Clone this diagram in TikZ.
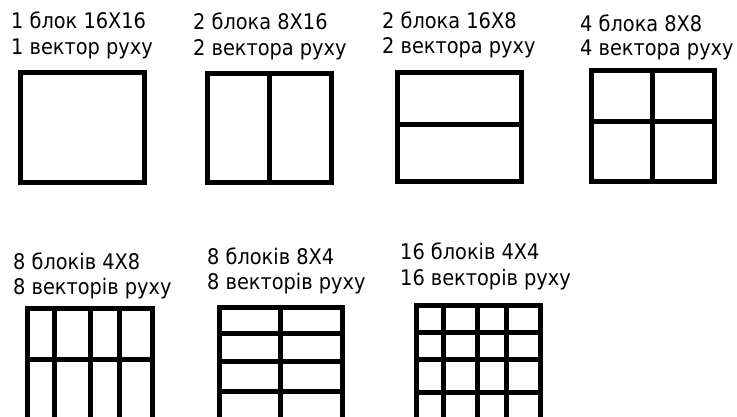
\documentclass[tikz,border=0pt]{standalone}
\usepackage{fontspec}
\setmainfont{DejaVu Sans Condensed}
\begin{document}
\begin{tikzpicture}[x=1pt,y=-1pt,
  lbl/.style={anchor=base west,inner sep=0pt,font=\fontsize{21.5}{24}\selectfont},
  grid/.style={line width=5pt,line join=miter,black}]
\useasboundingbox (0,0) rectangle (737,416);
\clip (0,0) rectangle (737,416);
% labels
\node[lbl] (a1) at (11,28) {1 блок 16X16};
\node[lbl] (a2) at (11,54) {1 вектор руху};
\node[lbl] (b1) at (193,29) {2 блока 8X16};
\node[lbl] (b2) at (193,55) {2 вектора руху};
\node[lbl] (c1) at (382,28) {2 блока 16X8};
\node[lbl] (c2) at (382,53) {2 вектора руху};
\node[lbl] (d1) at (580,31) {4 блока 8X8};
\node[lbl] (d2) at (580,55) {4 вектора руху};
\node[lbl] (e1) at (13,269) {8 блоків 4X8};
\node[lbl] (e2) at (13,294) {8 векторів руху};
\node[lbl] (f1) at (207,264) {8 блоків 8X4};
\node[lbl] (f2) at (207,289) {8 векторів руху};
\node[lbl] (g1) at (400,259) {16 блоків 4X4};
\node[lbl] (g2) at (400,285) {16 векторів руху};
% box 1
\draw[grid] (20,72) rectangle (144,182);
% box 2
\draw[grid] (207,73) rectangle (331,182);
\draw[grid] (269,73) -- (269,182);
% box 3
\draw[grid] (397,72) rectangle (521,181);
\draw[grid] (397,124) -- (521,124);
% box 4
\draw[grid] (591,70) rectangle (714,181);
\draw[grid] (652,70) -- (652,181);
\draw[grid] (591,121) -- (714,121);
% box 5
\draw[grid] (27,308) rectangle (152,422);
\foreach \x in {54,90,119} \draw[grid] (\x,308) -- (\x,422);
\draw[grid] (27,359) -- (152,359);
% box 6
\draw[grid] (219,307) rectangle (342,421);
\draw[grid] (280,307) -- (280,421);
\foreach \y in {333,361,391} \draw[grid] (219,\y) -- (342,\y);
% box 7
\draw[grid] (416,305) rectangle (540,419);
\foreach \x in {443,477,506} \draw[grid] (\x,305) -- (\x,419);
\foreach \y in {332,359,392} \draw[grid] (416,\y) -- (540,\y);
\end{tikzpicture}
\end{document}
